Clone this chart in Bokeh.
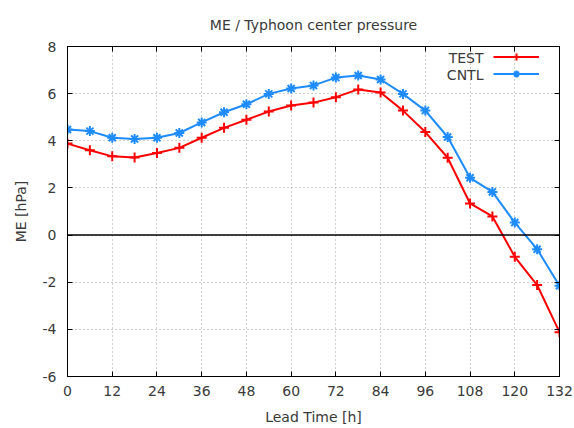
from bokeh.plotting import figure
from bokeh.models import Range1d, LinearAxis, FixedTicker, Span, Legend, LegendItem, Label
from bokeh.embed import file_html
from bokeh.resources import INLINE

lead_time = [0, 6, 12, 18, 24, 30, 36, 42, 48, 54, 60, 66, 72, 78, 84, 90, 96, 102, 108, 114, 120, 126, 132]
test_me = [3.88, 3.6, 3.34, 3.29, 3.48, 3.7, 4.13, 4.55, 4.89, 5.24, 5.5, 5.62, 5.85, 6.18, 6.05, 5.28, 4.37, 3.28, 1.34, 0.79, -0.92, -2.12, -4.12]
cntl_me = [4.48, 4.41, 4.13, 4.08, 4.13, 4.33, 4.78, 5.21, 5.55, 5.99, 6.22, 6.35, 6.68, 6.77, 6.6, 5.99, 5.28, 4.16, 2.43, 1.83, 0.53, -0.6, -2.15]
x_ticks = list(range(0, 133, 12))
y_ticks = list(range(-6, 9, 2))
y_tick_labels = ["-6", "-4", "-2", "0", "2", "4", "6", "8"]

FONT = "DejaVu Sans"
TXT = "#3a3a3a"
RED = "#ff0000"
BLUE = "#1e8cff"

p = figure(width=574, height=428, output_backend="svg", toolbar_location=None,
           x_range=Range1d(0, 132), y_range=Range1d(-6, 8),
           min_border_left=67, min_border_right=15, min_border_top=46, min_border_bottom=52,
           title="ME / Typhoon center pressure")
p.title.text_font = FONT
p.title.text_font_size = "14px"
p.title.text_font_style = "normal"
p.title.text_color = TXT
p.title.align = "center"
p.title.standoff = 27

p.background_fill_color = "white"
p.border_fill_color = "white"
p.outline_line_color = "black"
p.outline_line_width = 1

for ax, ticks in ((p.xaxis[0], x_ticks), (p.yaxis[0], y_ticks)):
    ax.ticker = FixedTicker(ticks=ticks)
    ax.major_tick_in = 5
    ax.major_tick_out = 0
    ax.minor_tick_in = 0
    ax.minor_tick_out = 0
    ax.axis_line_color = "black"
    ax.major_tick_line_color = "black"
    ax.major_label_text_font = FONT
    ax.major_label_text_font_size = "14px"
    ax.major_label_text_color = TXT
    ax.axis_label_text_font = FONT
    ax.axis_label_text_font_size = "14px"
    ax.axis_label_text_font_style = "normal"
    ax.axis_label_text_color = TXT

p.yaxis.major_label_overrides = dict(zip(y_ticks, y_tick_labels))
p.xaxis.axis_label = "Lead Time [h]"
p.yaxis.axis_label = "ME [hPa]"
p.xaxis.major_label_standoff = 9
p.xaxis.axis_label_standoff = 10
p.yaxis.major_label_standoff = 11
p.yaxis.axis_label_standoff = 11

for loc, ticks in (("above", x_ticks), ("right", y_ticks)):
    a = LinearAxis(ticker=FixedTicker(ticks=ticks), major_tick_in=5, major_tick_out=0,
                   minor_tick_in=0, minor_tick_out=0, axis_line_color="black",
                   major_tick_line_color="black", major_label_text_font_size="0px",
                   major_label_standoff=0)
    a.major_label_overrides = {t: "" for t in ticks}
    p.add_layout(a, loc)

p.xgrid.ticker = FixedTicker(ticks=x_ticks)
p.ygrid.ticker = FixedTicker(ticks=y_ticks)
p.grid.grid_line_color = "#a0a0a0"
p.grid.grid_line_dash = "1 3"
p.grid.grid_line_width = 1

p.add_layout(Span(location=0, dimension="width", line_color="black", line_width=1.5))

l1 = p.line(lead_time, test_me, line_color=RED, line_width=2)
s1 = p.scatter(lead_time, test_me, marker="cross", size=10, line_color=RED, line_width=2)
l2 = p.line(lead_time, cntl_me, line_color=BLUE, line_width=2)
s2 = p.scatter(lead_time, cntl_me, marker="asterisk", size=10, line_color=BLUE, line_width=2)

legend = Legend(items=[LegendItem(label=" ", renderers=[l1, s1]),
                       LegendItem(label=" ", renderers=[l2, s2])],
                location=(426, 294), orientation="vertical",
                glyph_width=46, glyph_height=17, label_height=17, label_width=0,
                label_standoff=0, spacing=0, padding=0, margin=0,
                border_line_color=None, background_fill_alpha=0,
                label_text_font_size="1px")
p.add_layout(legend)

for txt, yv in (("TEST", 7.53), ("CNTL", 6.8)):
    p.add_layout(Label(x=111.6, y=yv, text=txt, text_align="right", text_baseline="middle",
                       text_font=FONT, text_font_size="14px", text_color=TXT))

open("out.html", "w").write(file_html(p, INLINE))
